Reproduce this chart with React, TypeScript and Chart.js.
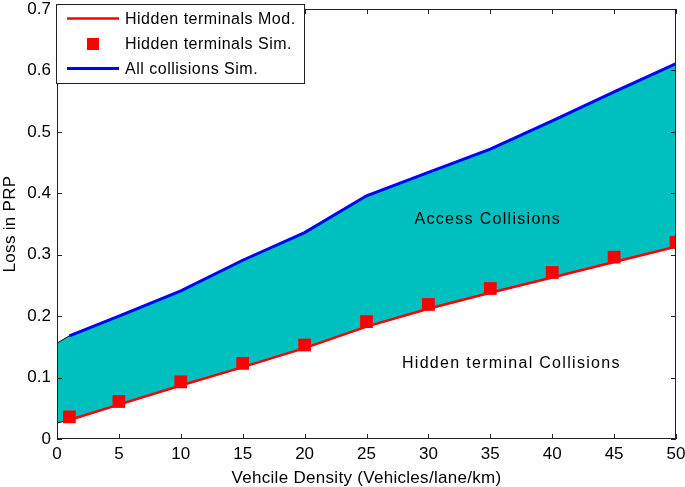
import React, { useEffect, useRef } from "react";
import { Chart, registerables } from "chart.js";

Chart.register(...registerables);

// ---- data ----
const densities = [1, 5, 10, 15, 20, 25, 30, 35, 40, 45, 50];
const hiddenMod = [0.031, 0.056, 0.087, 0.117, 0.148, 0.183, 0.212, 0.238, 0.263, 0.288, 0.313];
const hiddenSim = [0.036, 0.061, 0.093, 0.123, 0.153, 0.191, 0.219, 0.245, 0.271, 0.296, 0.320];
const allCollisions = [0.168, 0.2, 0.241, 0.291, 0.336, 0.396, 0.434, 0.472, 0.518, 0.565, 0.611];
const fillStartX = 0;
const fillStartUpper = 0.156;
const fillStartLower = 0.026;
const xTicks = [0, 5, 10, 15, 20, 25, 30, 35, 40, 45, 50];
const yTicks = [0, 0.1, 0.2, 0.3, 0.4, 0.5, 0.6, 0.7];
const legendLabels = ["Hidden terminals Mod.", "Hidden terminals Sim.", "All collisions Sim."];
const xTitle = "Vehcile Density (Vehicles/lane/km)";
const yTitle = "Loss in PRP";
const areaLabels = [
  { text: "Access Collisions", x: 34.8, y: 0.357 },
  { text: "Hidden terminal Collisions", x: 36.7, y: 0.123 },
];

const FONT = "'Liberation Sans', Arial, Helvetica, sans-serif";
const RED = "#ff0000";
const BLUE = "#0000ff";
const CYAN = "#00bfbf";

const pts = (xs: number[], ys: number[]) => xs.map((x, i) => ({ x, y: ys[i] }));

const decorPlugin = {
  id: "decor",
  afterDatasetsDraw(chart: any) {
    const { ctx, chartArea: a, scales } = chart;
    const xs = scales.x;
    const ys = scales.y;
    ctx.save();
    // area labels
    ctx.fillStyle = "#000";
    ctx.font = `16px ${FONT}`;
    (ctx as any).letterSpacing = "1.3px";
    ctx.textAlign = "center";
    ctx.textBaseline = "middle";
    for (const l of areaLabels) {
      ctx.fillText(l.text, xs.getPixelForValue(l.x), ys.getPixelForValue(l.y));
    }
    // axis titles
    ctx.font = `17px ${FONT}`;
    (ctx as any).letterSpacing = "0.3px";
    ctx.fillText(xTitle, (a.left + a.right) / 2, 478);
    ctx.save();
    ctx.translate(10, (a.top + a.bottom) / 2);
    ctx.rotate(-Math.PI / 2);
    ctx.fillText(yTitle, 0, 0);
    ctx.restore();
    (ctx as any).letterSpacing = "0px";
    // box
    ctx.strokeStyle = "#222";
    ctx.lineWidth = 1;
    ctx.strokeRect(Math.round(a.left) + 0.5, Math.round(a.top) + 0.5, Math.round(a.right - a.left) - 1, Math.round(a.bottom - a.top) - 1);
    // inward ticks
    const tl = 5;
    ctx.beginPath();
    for (const t of xTicks) {
      const px = Math.round(xs.getPixelForValue(t)) + 0.5;
      ctx.moveTo(px, a.bottom);
      ctx.lineTo(px, a.bottom - tl);
      ctx.moveTo(px, a.top);
      ctx.lineTo(px, a.top + tl);
    }
    for (const t of yTicks) {
      const py = Math.round(ys.getPixelForValue(t)) + 0.5;
      ctx.moveTo(a.left, py);
      ctx.lineTo(a.left + tl, py);
      ctx.moveTo(a.right, py);
      ctx.lineTo(a.right - tl, py);
    }
    ctx.stroke();
    ctx.restore();
  },
  afterDraw(chart: any) {
    const { ctx, chartArea: a } = chart;
    ctx.save();
    const bx = a.left - 0.5;
    const by = 4.5;
    const bw = 248;
    const bh = 79;
    ctx.fillStyle = "#fff";
    ctx.fillRect(bx, by, bw, bh);
    ctx.strokeStyle = "#222";
    ctx.lineWidth = 1;
    ctx.strokeRect(bx, by, bw, bh);
    const rows = [18.5, 44, 68.5];
    const lx0 = a.left + 10;
    const lx1 = a.left + 62;
    // row 1: red line
    ctx.strokeStyle = RED;
    ctx.lineWidth = 2.5;
    ctx.beginPath();
    ctx.moveTo(lx0, rows[0]);
    ctx.lineTo(lx1, rows[0]);
    ctx.stroke();
    // row 2: red square
    ctx.fillStyle = RED;
    ctx.fillRect((lx0 + lx1) / 2 - 6, rows[1] - 6, 12, 12);
    // row 3: blue line
    ctx.strokeStyle = BLUE;
    ctx.lineWidth = 3;
    ctx.beginPath();
    ctx.moveTo(lx0, rows[2]);
    ctx.lineTo(lx1, rows[2]);
    ctx.stroke();
    ctx.fillStyle = "#000";
    ctx.font = `16px ${FONT}`;
    (ctx as any).letterSpacing = "0.5px";
    ctx.textAlign = "left";
    ctx.textBaseline = "middle";
    legendLabels.forEach((t, i) => ctx.fillText(t, a.left + 68, rows[i] + 1));
    ctx.restore();
  },
};

export default function App() {
  const ref = useRef<HTMLCanvasElement | null>(null);
  useEffect(() => {
    if (!ref.current) return;
    const chart = new Chart(ref.current, {
      type: "line",
      data: {
        datasets: [
          {
            label: "fillUpper",
            data: pts([fillStartX, ...densities], [fillStartUpper, ...allCollisions]),
            borderColor: "#000",
            borderWidth: 1,
            backgroundColor: CYAN,
            pointRadius: 0,
            fill: "+1",
            order: 10,
          },
          {
            label: "fillLower",
            data: pts([fillStartX, ...densities], [fillStartLower, ...hiddenMod]),
            borderColor: "#000",
            borderWidth: 1,
            pointRadius: 0,
            fill: false,
            order: 9,
          },
          {
            label: legendLabels[0],
            data: pts(densities, hiddenMod),
            borderColor: RED,
            borderWidth: 2.5,
            pointRadius: 0,
            fill: false,
            order: 5,
          },
          {
            label: legendLabels[2],
            data: pts(densities, allCollisions),
            borderColor: BLUE,
            borderWidth: 3,
            pointRadius: 0,
            fill: false,
            order: 4,
          },
          {
            label: legendLabels[1],
            data: pts(densities, hiddenSim),
            showLine: false,
            pointStyle: "rect",
            pointRadius: 9,
            pointBackgroundColor: RED,
            pointBorderColor: RED,
            pointBorderWidth: 0,
            borderColor: RED,
            backgroundColor: RED,
            fill: false,
            order: 1,
          },
        ],
      },
      options: {
        animation: false,
        responsive: false,
        layout: { padding: { top: 6, right: 6, left: 0, bottom: 0 } },
        plugins: { legend: { display: false }, tooltip: { enabled: false } },
        elements: { line: { tension: 0 } },
        scales: {
          x: {
            type: "linear",
            min: 0,
            max: 50,
            afterBuildTicks: (s: any) => {
              s.ticks = xTicks.map((v) => ({ value: v }));
            },
            afterFit: (s: any) => {
              s.height = 48;
              s.paddingLeft = 0;
              s.paddingRight = 0;
            },
            grid: { display: false, drawTicks: false },
            border: { display: false },
            ticks: { color: "#000", font: { family: FONT, size: 17 }, padding: 5, maxRotation: 0, autoSkip: false },
            title: { display: false },
          },
          y: {
            type: "linear",
            min: 0,
            max: 0.7,
            afterBuildTicks: (s: any) => {
              s.ticks = yTicks.map((v) => ({ value: v }));
            },
            afterFit: (s: any) => {
              s.width = 57;
              s.paddingTop = 0;
              s.paddingBottom = 0;
            },
            grid: { display: false, drawTicks: false },
            border: { display: false },
            ticks: {
              color: "#000",
              font: { family: FONT, size: 17 },
              padding: 6,
              autoSkip: false,
              callback: (v: any) => String(+Number(v).toFixed(1)),
            },
            title: { display: false },
          },
        },
      },
      plugins: [decorPlugin],
    });
    return () => chart.destroy();
  }, []);
  return (
    <div style={{ position: "fixed", left: 0, top: 0, width: 685, height: 487, background: "#fff" }}>
      <canvas ref={ref} width={685} height={487} style={{ display: "block" }} />
    </div>
  );
}
